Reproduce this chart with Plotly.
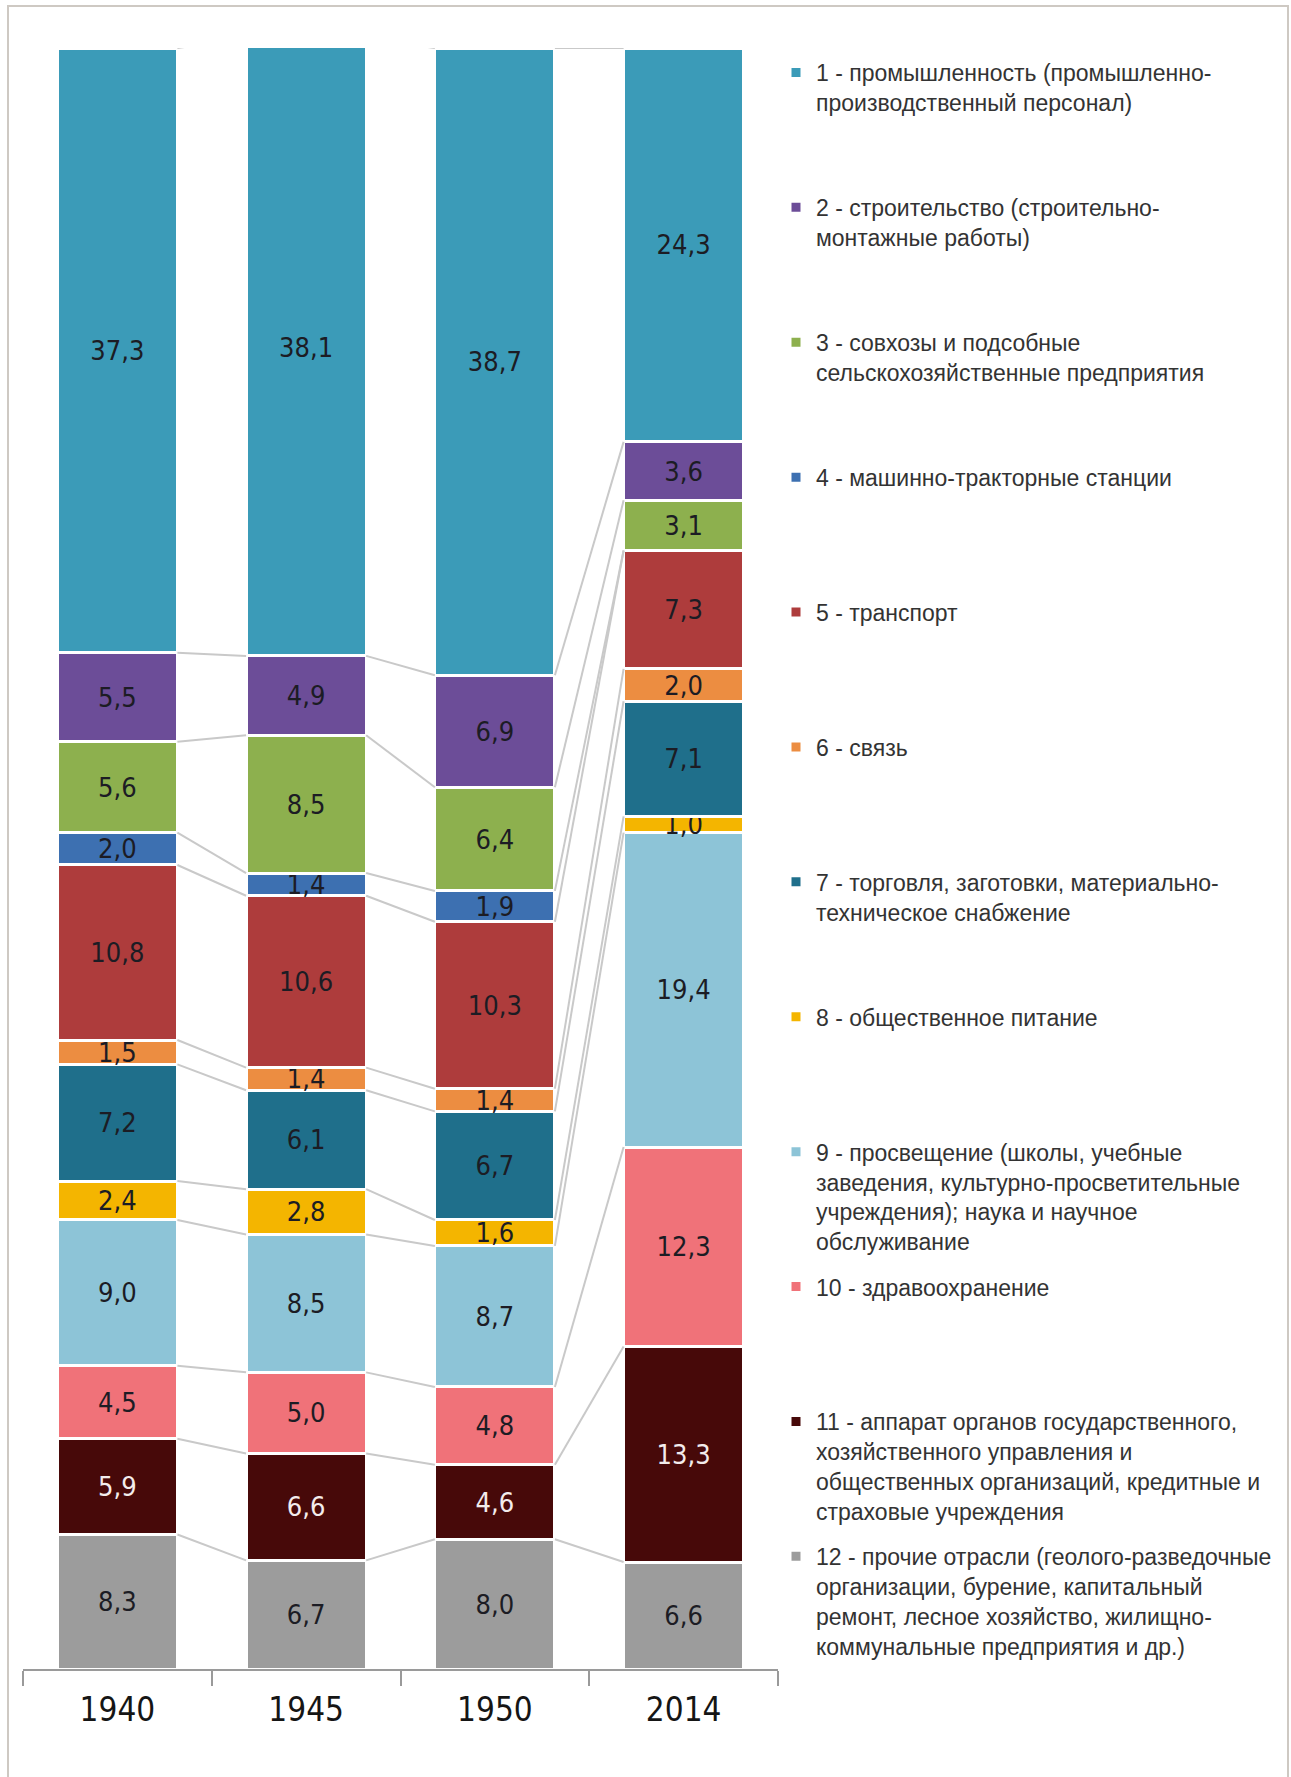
import plotly.graph_objects as go

# ---------------- data ----------------
years = ["1940", "1945", "1950", "2014"]

labels = [
    "1 - промышленность (промышленно-<br>производственный персонал)",
    "2 - строительство (строительно-<br>монтажные работы)",
    "3 - совхозы и подсобные<br>сельскохозяйственные предприятия",
    "4 - машинно-тракторные станции",
    "5 - транспорт",
    "6 - связь",
    "7 - торговля, заготовки, материально-<br>техническое снабжение",
    "8 - общественное питание",
    "9 - просвещение (школы, учебные<br>заведения, культурно-просветительные<br>учреждения); наука и научное<br>обслуживание",
    "10 - здравоохранение",
    "11 - аппарат органов государственного,<br>хозяйственного управления и<br>общественных организаций, кредитные и<br>страховые учреждения",
    "12 - прочие отрасли (геолого-разведочные<br>организации, бурение, капитальный<br>ремонт, лесное хозяйство, жилищно-<br>коммунальные предприятия и др.)",
]

industry      = [37.3, 38.1, 38.7, 24.3]
construction  = [5.5, 4.9, 6.9, 3.6]
sovkhozy      = [5.6, 8.5, 6.4, 3.1]
mts           = [2.0, 1.4, 1.9, 0.0]
transport     = [10.8, 10.6, 10.3, 7.3]
communication = [1.5, 1.4, 1.4, 2.0]
trade         = [7.2, 6.1, 6.7, 7.1]
catering      = [2.4, 2.8, 1.6, 1.0]
education     = [9.0, 8.5, 8.7, 19.4]
health        = [4.5, 5.0, 4.8, 12.3]
government    = [5.9, 6.6, 4.6, 13.3]
other         = [8.3, 6.7, 8.0, 6.6]

series = [industry, construction, sovkhozy, mts, transport, communication,
          trade, catering, education, health, government, other]

colors = ["#3B9BB8", "#6C4D98", "#8DB04E", "#3D70B1", "#AE3C3C", "#EC8D41",
          "#1F6F8B", "#F4B500", "#8DC4D7", "#F07279", "#470909", "#9C9C9C"]
text_colors = ["#1c1c24"] * 10 + ["#F3ECEC", "#1c1c24"]

# ---------------- figure ----------------
W, H = 1291, 1777
ML, MR, MT, MB = 23, 513, 48, 108
bar_w = 0.636
xpos = list(range(len(years)))

num_font = "Liberation Sans Narrow, DejaVu Sans Condensed, Arial Narrow, sans-serif"
leg_font = "Liberation Sans, Arial, sans-serif"

fig = go.Figure()

# series (connector) lines between bars at every stack boundary
order = list(range(len(series) - 1, -1, -1))  # bottom (12) to top (1)
cum = []
for j in range(len(years)):
    c, lev = 0.0, []
    for k in order:
        c += series[k][j]
        lev.append(c)
    cum.append(lev)

lx, ly = [], []
for j in range(len(years) - 1):
    for b in range(len(order)):
        lx += [xpos[j] + bar_w / 2, xpos[j + 1] - bar_w / 2, None]
        ly += [cum[j][b], cum[j + 1][b], None]
fig.add_trace(go.Scatter(x=lx, y=ly, mode="lines", showlegend=False,
                         hoverinfo="skip",
                         line=dict(color="#C9C9C9", width=2)))

# stacked bars, bottom series first
for k in order:
    vals = series[k]
    txt = [("" if v == 0 else f"{v:.1f}".replace(".", ",")) for v in vals]
    leg = "legend" if k == 0 else f"legend{k + 1}"
    fig.add_trace(go.Bar(
        x=xpos, y=vals, width=bar_w, name=labels[k], legend=leg,
        marker=dict(color=colors[k], line=dict(color="white", width=3)),
        text=txt, textposition="inside", insidetextanchor="middle",
        textangle=0,
        textfont=dict(family=num_font, size=27, color=text_colors[k]),
        hoverinfo="skip",
    ))

# one legend per entry so the entries keep the reference's even spacing
first_center = 71
step = 134.9
legends = {}
for k in range(len(series)):
    key = "legend" if k == 0 else f"legend{k + 1}"
    center = first_center + k * step
    legends[key] = dict(
        xref="container", yref="container",
        x=(816 - 40) / W, y=1 - (center - 20) / H,
        xanchor="left", yanchor="top",
        font=dict(family=leg_font, size=23, color="#333333"),
        bgcolor="rgba(0,0,0,0)", borderwidth=0, valign="top",
    )

fig.update_layout(
    width=W, height=H,
    margin=dict(l=ML, r=MR, t=MT, b=MB, autoexpand=False),
    paper_bgcolor="white", plot_bgcolor="white",
    barmode="stack",
    uniformtext=dict(minsize=27, mode="show"),
    showlegend=True,
    **legends,
)

fig.update_xaxes(
    range=[-0.5, 3.5], tickmode="array", tickvals=xpos, ticktext=years,
    ticks="", showgrid=False, zeroline=False,
    showline=True, linecolor="#9A9A9A", linewidth=1.5,
    tickfont=dict(family=num_font, size=33, color="#151515"),
    ticklabelstandoff=11,
    minor=dict(tickmode="array", tickvals=[-0.5, 0.5, 1.5, 2.5, 3.5],
               ticks="outside", ticklen=15, tickcolor="#9A9A9A",
               tickwidth=1.5, showgrid=False),
)
fig.update_yaxes(range=[0, 100], visible=False, fixedrange=True)

# light frame around the chart
pw, ph = W - ML - MR, H - MT - MB
fig.add_shape(type="rect", xref="paper", yref="paper",
              x0=(8 - ML) / pw, x1=(1288 - ML) / pw,
              y0=(H - MB - 1800) / ph, y1=(H - MB - 6) / ph,
              line=dict(color="#CEC9C3", width=2), fillcolor="rgba(0,0,0,0)",
              layer="below")

fig.write_html(
    "out.html",
    config={"displayModeBar": False},
    post_script="document.body.style.margin='0px';document.body.style.overflow='hidden';",
)
